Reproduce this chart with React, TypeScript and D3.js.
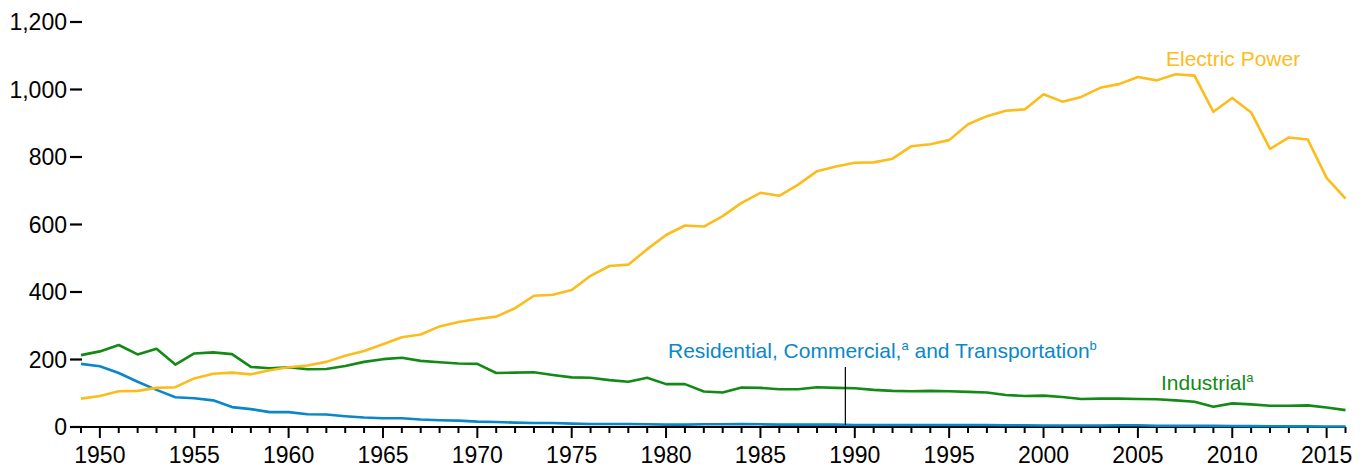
import * as d3 from "d3";

const years = d3.range(1949, 2017);

const electricPower = [
  84, 92, 106, 107, 116, 118, 144, 158, 161, 156, 168, 177, 182, 193, 211, 225,
  245, 266, 274, 298, 311, 320, 327, 352, 389, 392, 406, 448, 477, 481, 527, 569,
  597, 594, 625, 664, 694, 685, 718, 758, 772, 783, 784, 795, 832, 838, 850, 897,
  921, 937, 941, 986, 964, 978, 1005, 1016, 1037, 1027, 1045, 1041, 934, 975,
  932, 824, 858, 852, 738, 677,
];

const industrial = [
  213, 224, 243, 215, 232, 185, 218, 221, 216, 178, 174, 177, 171, 172, 181, 193,
  201, 205, 196, 192, 188, 187, 160, 161, 162, 154, 147, 146, 139, 134, 146, 127,
  127, 105, 102, 117, 116, 112, 112, 118, 116, 115, 110, 107, 106, 107, 106, 104,
  102, 95, 92, 93, 89, 83, 84, 84, 83, 82, 79, 75, 60, 70, 67, 63, 63, 64, 58, 50,
];

const resComTrans = [
  187, 180, 160, 134, 110, 88, 85, 79, 59, 53, 44, 44, 38, 37, 32, 28, 26, 26, 22,
  20, 19, 16, 15, 13, 12, 12, 10, 9, 9, 9, 8, 7, 7, 8, 8, 9, 8, 7, 7, 7, 7, 6, 6,
  6, 6, 6, 6, 6, 6, 5, 5, 4.5, 4.4, 4.4, 4.4, 5, 5, 3.5, 3.6, 3.6, 3.3, 3, 2.6,
  2.1, 2, 2, 1.7, 1.5,
];

const yTicks = [0, 200, 400, 600, 800, 1000, 1200];

const YELLOW = "#fcbc1c";
const GREEN = "#138a16";
const BLUE = "#0a87c8";
const FONT = "'Liberation Sans', Arial, sans-serif";

const W = 1370;
const H = 470;
const AXIS_FONT = 23;

export default function App() {
  const x = d3.scaleLinear().domain([1949, 2016]).range([81, 1345.5]);
  const y = d3.scaleLinear().domain([0, 1200]).range([427, 22]);

  const line = d3
    .line<number>()
    .x((_, i) => x(years[i]))
    .y((d) => y(d));

  const fmt = d3.format(",");

  return (
    <svg
      width={W}
      height={H}
      style={{ position: "absolute", left: 0, top: 0, fontFamily: FONT }}
    >
      {/* y axis ticks */}
      {yTicks.map((t) => (
        <g key={t}>
          <line x1={70} x2={82} y1={y(t)} y2={y(t)} stroke="#000" strokeWidth={2.2} />
          <text x={67} y={y(t)} dy="0.36em" textAnchor="end" fontSize={AXIS_FONT} fill="#000">
            {fmt(t)}
          </text>
        </g>
      ))}

      {/* x axis */}
      <line x1={x(1949)} x2={x(2016)} y1={y(0)} y2={y(0)} stroke="#000" strokeWidth={2} />
      {years.map((yr) => {
        const major = yr % 5 === 0;
        return (
          <g key={yr}>
            <line
              x1={x(yr)}
              x2={x(yr)}
              y1={y(0)}
              y2={y(0) + (major ? 11 : 6)}
              stroke="#000"
              strokeWidth={2}
            />
            {major && (
              <text x={x(yr)} y={463} textAnchor="middle" fontSize={AXIS_FONT} fill="#000">
                {yr}
              </text>
            )}
          </g>
        );
      })}

      {/* series */}
      <path d={line(resComTrans) ?? ""} fill="none" stroke={BLUE} strokeWidth={2.6} strokeLinejoin="round" />
      <path d={line(industrial) ?? ""} fill="none" stroke={GREEN} strokeWidth={2.6} strokeLinejoin="round" />
      <path d={line(electricPower) ?? ""} fill="none" stroke={YELLOW} strokeWidth={2.6} strokeLinejoin="round" />

      {/* leader line for residential label */}
      <line x1={x(1989.5)} x2={x(1989.5)} y1={367} y2={y(6)} stroke="#000" strokeWidth={1.2} />

      {/* labels */}
      <text x={1166} y={66} fontSize={21} fill={YELLOW}>
        Electric Power
      </text>
      <text x={668} y={358} fontSize={21} fill={BLUE}>
        Residential, Commercial,
        <tspan fontSize={13} dy={-8}>a</tspan>
        <tspan dy={8}> and Transportation</tspan>
        <tspan fontSize={13} dy={-8}>b</tspan>
      </text>
      <text x={1161} y={390} fontSize={21} fill={GREEN}>
        Industrial
        <tspan fontSize={13} dy={-8}>a</tspan>
      </text>
    </svg>
  );
}
